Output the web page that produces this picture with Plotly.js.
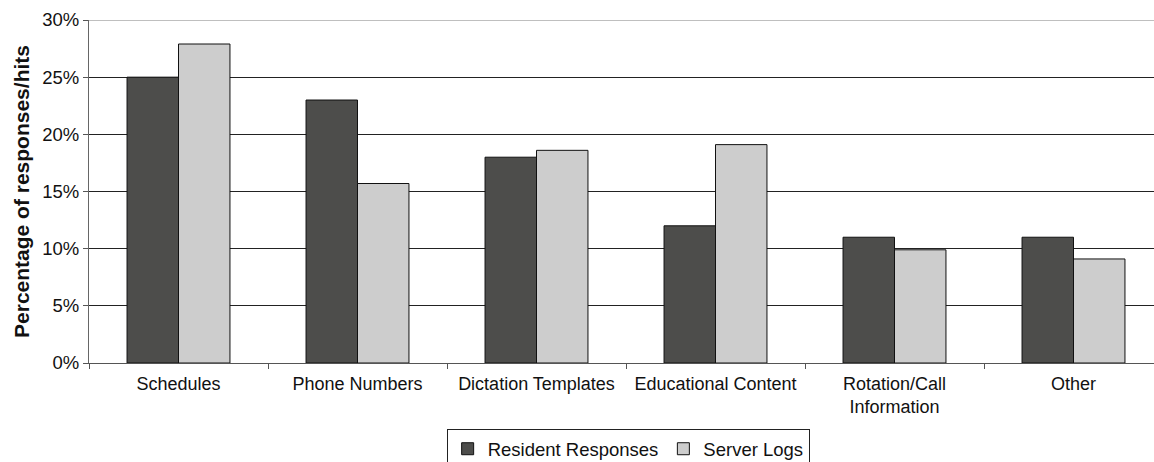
<!DOCTYPE html>
<html>
<head>
<meta charset="utf-8">
<script src="https://cdn.plot.ly/plotly-3.0.1.min.js"></script>
<style>html,body{margin:0;padding:0;overflow:hidden;background:#fff;}</style>
</head>
<body>
<div id="chart"></div>
<script>
const categories = ["Schedules", "Phone Numbers", "Dictation Templates", "Educational Content", "Rotation/Call<br>Information", "Other"];
const residentResponses = [25, 23, 18, 12, 11, 11];
const serverLogs = [27.9, 15.7, 18.6, 19.1, 9.9, 9.1];
const yTickVals = [0, 5, 10, 15, 20, 25, 30];
const yTickText = ["0%", "5%", "10%", "15%", "20%", "25%", "30%"];

const traces = [
  {type: "bar", name: "Resident Responses", x: categories, y: residentResponses,
   marker: {color: "#4d4d4b", line: {color: "#111", width: 1}}},
  {type: "bar", name: "Server Logs", x: categories, y: serverLogs,
   marker: {color: "#cdcdcd", line: {color: "#111", width: 1}}}
];

const layout = {
  width: 1163, height: 462,
  margin: {l: 89, r: 0, t: 20, b: 99},
  paper_bgcolor: "#fff", plot_bgcolor: "#fff",
  font: {family: "Liberation Sans, Arial, sans-serif", size: 18, color: "#111"},
  barmode: "group", bargap: 0.425, bargroupgap: 0,
  showlegend: true,
  legend: {orientation: "h", xref: "paper", x: 0.502, xanchor: "center",
           yref: "container", y: 0.071, yanchor: "top",
           bordercolor: "#222", borderwidth: 1, font: {size: 18.5},
           itemwidth: 30, tracegroupgap: 0},
  xaxis: {type: "category", tickson: "boundaries", ticks: "outside", ticklen: 5,
          tickcolor: "#555", showline: true, linecolor: "#555", linewidth: 1,
          showgrid: false, zeroline: false, tickfont: {size: 18}, ticklabelstandoff: 4,
          fixedrange: true},
  yaxis: {range: [0, 30], tickvals: yTickVals, ticktext: yTickText,
          ticks: "outside", ticklen: 5, tickcolor: "#555",
          showline: true, linecolor: "#666", linewidth: 1,
          showgrid: true, gridcolor: "#222", gridwidth: 1, zeroline: false,
          tickfont: {size: 18.5},
          title: {text: "<b>Percentage of responses/hits</b>", font: {size: 21}, standoff: 6}},
  shapes: [{type: "line", xref: "paper", yref: "y", x0: 0, x1: 1, y0: 30, y1: 30,
            line: {color: "#aaa", width: 1.5}}]
};

Plotly.newPlot("chart", traces, layout, {displayModeBar: false, staticPlot: true});
</script>
</body>
</html>
